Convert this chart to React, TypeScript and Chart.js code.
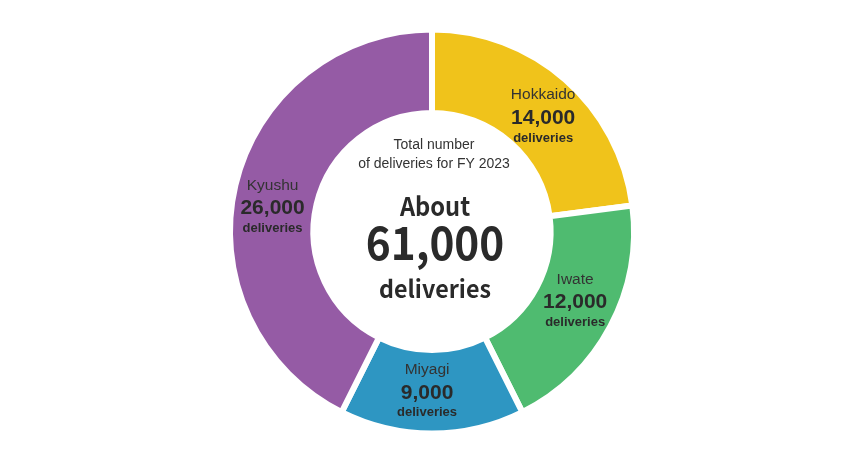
import React, { useEffect, useRef } from "react";
import { Chart, registerables } from "chart.js";

Chart.register(...registerables);

const regions = ["Hokkaido", "Iwate", "Miyagi", "Kyushu"];
const deliveries = [14000, 12000, 9000, 26000];
const colors = ["#F0C31B", "#4FBB70", "#2E96C2", "#955BA5"];
const centerLines = ["Total number", "of deliveries for FY 2023", "About", "61,000", "deliveries"];
const unitLabel = "deliveries";
// small per-label angular nudges (degrees) to match the hand-placed labels
const labelAngleNudge = [3.1, -2.1, 1.4, -4.6];

function fillScaled(ctx: CanvasRenderingContext2D, text: string, x: number, y: number, sx: number) {
  ctx.save();
  ctx.translate(x, y);
  ctx.scale(sx, 1);
  ctx.fillText(text, 0, 0);
  ctx.restore();
}

const labelPlugin = {
  id: "segLabels",
  afterDatasetsDraw(chart: any) {
    const ctx = chart.ctx;
    const meta = chart.getDatasetMeta(0);
    ctx.save();
    ctx.textAlign = "center";
    ctx.textBaseline = "middle";
    meta.data.forEach((arc: any, i: number) => {
      const p = arc.getProps(["x", "y", "startAngle", "endAngle", "innerRadius", "outerRadius"], true);
      const a = (p.startAngle + p.endAngle) / 2 + (labelAngleNudge[i] * Math.PI) / 180;
      const r = (p.innerRadius + p.outerRadius) / 2;
      const x = p.x + Math.cos(a) * r - 1;
      const y = p.y + Math.sin(a) * r + 1;
      ctx.fillStyle = "#333333";
      ctx.font = "15.5px 'Liberation Sans'";
      ctx.fillText(regions[i], x, y - 23);
      ctx.fillStyle = "#2a2a2a";
      ctx.font = "bold 21px 'Liberation Sans'";
      ctx.fillText(deliveries[i].toLocaleString("en-US"), x, y);
      ctx.font = "bold 13px 'Liberation Sans'";
      ctx.fillText(unitLabel, x, y + 20);
    });
    // center text
    const cx = meta.data[0].x + 3;
    const cy = meta.data[0].y;
    ctx.fillStyle = "#333333";
    ctx.font = "14px 'Liberation Sans'";
    ctx.fillText(centerLines[0], cx - 1, cy - 86);
    ctx.fillText(centerLines[1], cx - 1, cy - 67);
    ctx.fillStyle = "#2a2a2a";
    ctx.font = "bold 26px 'Noto Sans CJK JP'";
    fillScaled(ctx, centerLines[2], cx, cy - 25, 0.91);
    ctx.font = "bold 46px 'Noto Sans CJK JP'";
    fillScaled(ctx, centerLines[3], cx, cy + 11, 0.92);
    ctx.font = "bold 24px 'Noto Sans CJK JP'";
    fillScaled(ctx, centerLines[4], cx, cy + 57, 0.97);
    ctx.restore();
  },
};

export default function App() {
  const ref = useRef<HTMLCanvasElement>(null);
  useEffect(() => {
    const chart = new Chart(ref.current!, {
      type: "doughnut",
      data: {
        labels: regions,
        datasets: [
          {
            data: deliveries,
            backgroundColor: colors,
            borderColor: "#ffffff",
            borderWidth: 6,
            radius: 202,
            hoverOffset: 0,
          } as any,
        ],
      },
      options: {
        animation: false,
        responsive: false,
        cutout: "58.7%",
        layout: { padding: { left: 14, top: 7 } },
        plugins: { legend: { display: false }, tooltip: { enabled: false } },
      },
      plugins: [labelPlugin],
    });
    return () => chart.destroy();
  }, []);
  return (
    <div style={{ position: "absolute", left: 0, top: 0, width: 850, height: 456, background: "#fff" }}>
      <canvas ref={ref} width={850} height={456} style={{ width: 850, height: 456 }} />
    </div>
  );
}
